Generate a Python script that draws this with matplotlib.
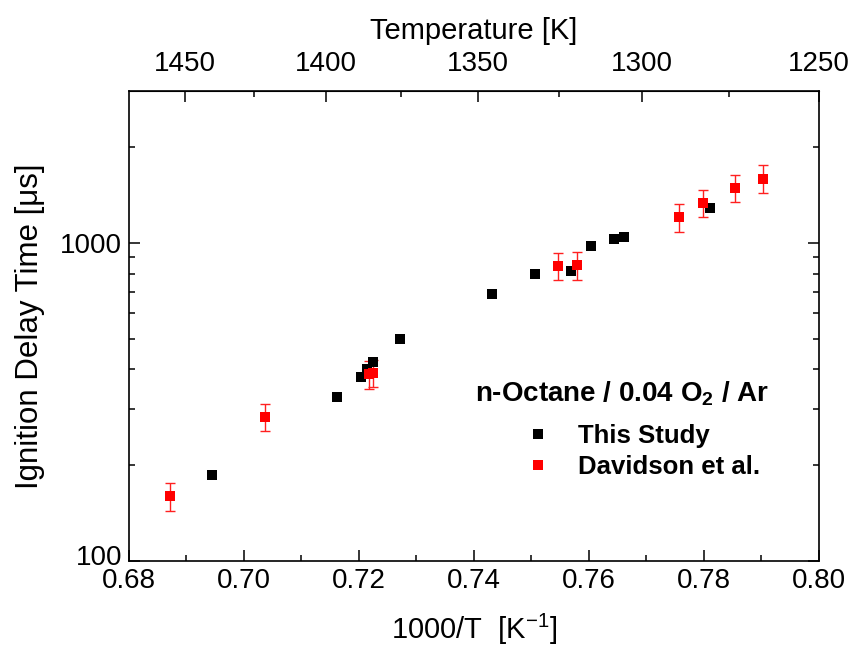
import matplotlib
matplotlib.use('Agg')
import matplotlib.pyplot as plt
from matplotlib.ticker import FixedLocator, NullFormatter
from matplotlib.transforms import ScaledTranslation
import numpy as np

plt.rcParams['font.family'] = ['Liberation Sans', 'DejaVu Sans']
plt.rcParams['mathtext.fontset'] = 'custom'
plt.rcParams['mathtext.rm'] = 'Liberation Sans'
plt.rcParams['mathtext.bf'] = 'Liberation Sans:bold'

# This study (1000/T, ignition delay in microseconds)
study_x = [0.6944, 0.7162, 0.7203, 0.7214, 0.7225, 0.7271, 0.7431,
           0.7506, 0.7569, 0.7603, 0.7644, 0.7661, 0.7811]
study_y = [187, 328, 380, 400, 421, 500, 690,
           796, 815, 979, 1026, 1043, 1289]

# Davidson et al.
dav_x = [0.6872, 0.7036, 0.7218, 0.7224, 0.7546, 0.7580, 0.7757,
         0.7799, 0.7854, 0.7903]
dav_y = [160, 284, 386, 390, 847, 852, 1202, 1337, 1490, 1591]
dav_err = [0.1 * v for v in dav_y]

temp_ticks = [1450, 1400, 1350, 1300, 1250]
temp_minor = [1425, 1375, 1325, 1275]

fig = plt.figure(figsize=(8.5, 6.55), dpi=100)
ax = fig.add_axes([129 / 850, 1 - 561 / 655, 690 / 850, 470 / 655])

ax.errorbar(dav_x, dav_y, yerr=dav_err, fmt='none', ecolor='#ff2020',
            elinewidth=1.0, capsize=3.3, capthick=1.0, zorder=2)
ax.plot(study_x, study_y, 's', color='black', ms=7.5, mew=0,
        label='This Study', zorder=3)
ax.plot(dav_x, dav_y, 's', color='#ff0000', ms=7.5, mew=0,
        label='Davidson et al.', zorder=4)

ax.set_yscale('log')
ax.set_xlim(0.68, 0.80)
ax.set_ylim(100, 3000)

ax.set_xticks(np.arange(0.68, 0.801, 0.02))
ax.set_xticklabels(['0.68', '0.70', '0.72', '0.74', '0.76', '0.78', '0.80'])
ax.xaxis.set_minor_locator(FixedLocator(np.arange(0.69, 0.80, 0.02)))
ax.set_yticks([100, 1000])
ax.set_yticklabels(['100', '1000'])
ax.yaxis.set_minor_locator(FixedLocator([200, 300, 400, 500, 600, 700, 800, 900, 2000]))
ax.yaxis.set_minor_formatter(NullFormatter())

ax.tick_params(which='both', direction='in', top=False, right=True,
               labelsize=20, width=1.1)
ax.tick_params(which='major', length=8, pad=5)
ax.tick_params(which='minor', length=4.5)
for s in ax.spines.values():
    s.set_linewidth(1.2)

# lift the "100" label a little so it clears "0.68"
lbl = ax.get_yticklabels()[0]
lbl.set_transform(lbl.get_transform() + ScaledTranslation(0, 4 / 72, fig.dpi_scale_trans))

ax.set_xlabel('1000/T  [K$^{-1}$]', fontsize=21, labelpad=13)
ax.set_ylabel('Ignition Delay Time [\u03bcs]', fontsize=22.5, labelpad=11)

sec = ax.secondary_xaxis('top', functions=(lambda x: 1000 / x, lambda t: 1000 / t))
sec.set_xticks(temp_ticks)
sec.set_xticklabels([str(t) for t in temp_ticks])
sec.xaxis.set_minor_locator(FixedLocator(temp_minor))
sec.tick_params(which='both', direction='in', labelsize=20, width=1.1)
sec.tick_params(which='major', length=8, pad=10)
sec.tick_params(which='minor', length=4.5)
sec.set_xlabel('Temperature [K]', fontsize=21, labelpad=9)

ax.text(0.502, 0.357, 'n-Octane / 0.04 O$_\\mathbf{2}$ / Ar', transform=ax.transAxes,
        fontsize=20, fontweight='bold', va='center', ha='left')
ax.legend(loc='center left', bbox_to_anchor=(0.578, 0.233), frameon=False,
          prop={'weight': 'bold', 'size': 18.5}, handlelength=0.8,
          handletextpad=1.15, labelspacing=0.25, borderaxespad=0, borderpad=0)

fig.savefig('out.png', dpi=100)
